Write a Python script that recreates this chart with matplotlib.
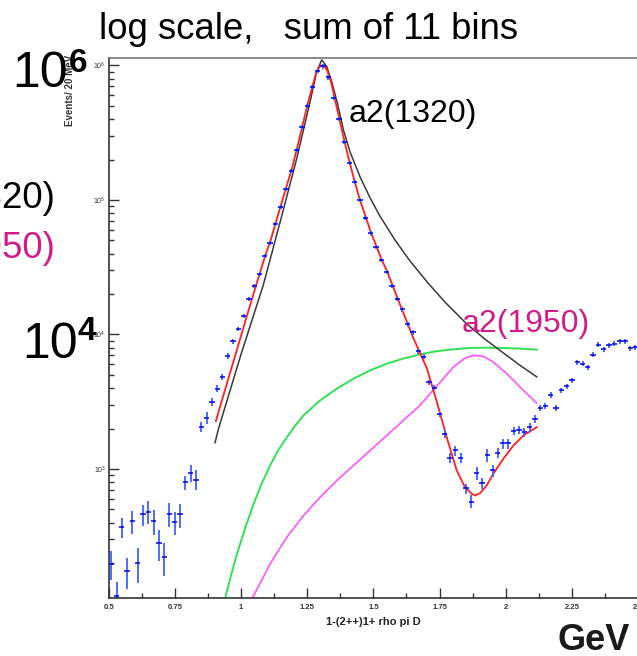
import numpy as np
import matplotlib
matplotlib.use('Agg')
import matplotlib.pyplot as plt
from matplotlib.ticker import LogLocator, MultipleLocator, NullFormatter

plt.rcParams['font.family'] = ['Liberation Sans', 'DejaVu Sans']
plt.rcParams['mathtext.fontset'] = 'custom'
plt.rcParams['mathtext.rm'] = 'Liberation Sans'
plt.rcParams['mathtext.bf'] = 'Liberation Sans:bold'

# histogram: 20 MeV bins from 0.5 GeV
bin_lo = 0.50
bin_w = 0.02
events = [198, 114, 369, 173, 409, 199, 459, 483, 409, 280,
          220, 464, 402, 459, 798, 937, 835, 2047, 2405, 3144,
          3955, 4827, 6880, 8900, 11070, 13670, 18500, 22960, 28190, 38100,
          47750, 65920, 89300, 119900, 164800, 233900, 346000, 502400, 695000, 914000,
          984000, 814700, 576800, 399000, 271000, 189200, 136800, 99800, 73600, 56400,
          44770, 35890, 29170, 22910, 18360, 15410, 11910, 10380, 7540, 6840,
          4406, 4027, 2547, 1816, 1214, 1374, 1208, 718, 573, 934,
          783, 1271, 975, 1312, 1549, 1549, 1910, 1952, 1870, 2037,
          2350, 2860, 2938, 3566, 2857, 3843, 4115, 4560, 6240, 6070,
          5730, 7080, 8410, 7760, 8310, 8550, 8900, 8900, 7930, 8070]
# relative errors
rel_err = [0.25, 0.26, 0.17, 0.26, 0.19, 0.29, 0.18, 0.19, 0.21, 0.26,
           0.27, 0.20, 0.20, 0.20, 0.12, 0.15, 0.17, 0.085, 0.10, 0.07,
           0.06, 0.05, 0.05, 0.045, 0.035, 0.035, 0.035, 0.035, 0.035, 0.035,
           0.035, 0.035, 0.035, 0.035, 0.035, 0.035, 0.035, 0.035, 0.035, 0.035,
           0.035, 0.035, 0.035, 0.035, 0.035, 0.035, 0.035, 0.035, 0.035, 0.035,
           0.035, 0.035, 0.035, 0.035, 0.035, 0.043, 0.043, 0.043, 0.043, 0.043,
           0.043, 0.043, 0.043, 0.07, 0.09, 0.085, 0.08, 0.085, 0.11, 0.115,
           0.10, 0.115, 0.10, 0.085, 0.085, 0.085, 0.07, 0.07, 0.07, 0.07,
           0.07, 0.05, 0.05, 0.05, 0.05, 0.05, 0.05, 0.05, 0.043, 0.043,
           0.043, 0.043, 0.043, 0.043, 0.043, 0.043, 0.043, 0.043, 0.043, 0.043]

# total fit (red)
fit_m = [0.905, 0.9435, 0.984, 1.023, 1.063, 1.091, 1.112, 1.132, 1.151, 1.170,
         1.192, 1.211, 1.232, 1.252, 1.270, 1.285, 1.299, 1.311, 1.325, 1.340,
         1.352, 1.370, 1.389, 1.408, 1.427, 1.446, 1.469, 1.489, 1.510, 1.529,
         1.550, 1.571, 1.590, 1.612, 1.650, 1.702, 1.740, 1.777, 1.815, 1.846,
         1.872, 1.884, 1.903, 1.928, 1.953, 1.991, 2.029, 2.067, 2.117]
fit_v = [2270, 4111, 7620, 13900, 25350, 38200, 50200, 68400, 91600, 122700,
         169800, 239300, 355000, 517600, 704700, 895700, 993000, 1009000, 927000, 755000,
         594000, 414000, 284000, 198200, 143200, 105100, 77200, 58700, 46150, 36900,
         30060, 23650, 18920, 14640, 9530, 5600, 3144, 1725, 975, 732,
         653, 635, 661, 754, 921, 1191, 1496, 1776, 2047]

# a2(1320) component (black)
a2a_m = [0.902, 0.914, 0.999, 1.084, 1.148, 1.211, 1.261, 1.286, 1.305, 1.324,
         1.343, 1.365, 1.387, 1.412, 1.450, 1.488, 1.525, 1.582, 1.639, 1.707,
         1.771, 1.850, 1.922, 1.998, 2.054, 2.117]
a2a_v = [1567, 1959, 7000, 23230, 68800, 205100, 538300, 901000, 1101000, 982000,
         755000, 517600, 331100, 227500, 148100, 103300, 75860, 50280, 35080, 24060,
         17370, 12120, 9210, 7120, 5898, 4842]

# background (green)
bkg_m = [0.936, 0.959, 0.984, 1.015, 1.047, 1.078, 1.110, 1.140, 1.173, 1.204,
         1.236, 1.299, 1.362, 1.425, 1.488, 1.551, 1.613, 1.676, 1.736, 1.802,
         1.865, 1.928, 1.991, 2.054, 2.117]
bkg_v = [101, 153, 231, 360, 544, 780, 1062, 1373, 1717, 2090,
         2502, 3236, 3955, 4695, 5410, 6070, 6620, 7120, 7500, 7760,
         7940, 7980, 7940, 7850, 7720]

# a2(1950) component (magenta)
a2b_m = [1.019, 1.041, 1.075, 1.110, 1.173, 1.236, 1.299, 1.362, 1.425, 1.488,
         1.551, 1.613, 1.676, 1.736, 1.769, 1.802, 1.847, 1.878, 1.916, 1.953,
         2.004, 2.054, 2.117]
a2b_v = [88, 108, 145, 197, 311, 450, 617, 821, 1062, 1374,
         1776, 2297, 2972, 4064, 4800, 5730, 6680, 7000, 6880, 6240,
         5117, 4064, 3090]

W, H = 637, 656
fig = plt.figure(figsize=(W / 100, H / 100), dpi=100)
# axis runs 0.5 .. 3.0, right part is cut by the picture edge
ax = fig.add_axes([108.6 / W, (H - 598.3) / H, 661.9 / W, 540.3 / H])

centers = bin_lo + bin_w * (np.arange(len(events)) + 0.5)
events = np.array(events, dtype=float)
yerr = events * np.array(rel_err)

ax.plot(a2b_m, a2b_v, color='#ff55ff', lw=1.2)
ax.plot(bkg_m, bkg_v, color='#33e055', lw=1.4)
ax.plot(a2a_m, a2a_v, color='#3a3a3a', lw=1.1)
ax.plot(fit_m, fit_v, color='#ff2020', lw=1.3)
ax.errorbar(centers, events, yerr=yerr, fmt='none', ecolor='#4060ff', elinewidth=1.3, capsize=0)
ax.errorbar(centers, events, xerr=bin_w / 2, fmt='none', ecolor='#0000ee', elinewidth=1.1, capsize=0)

ax.set_yscale('log')
ax.set_xlim(0.5, 3.0)
ax.set_ylim(109.3, 1.137e6)

ax.xaxis.set_major_locator(MultipleLocator(0.25))
ax.xaxis.set_minor_locator(MultipleLocator(0.125))
ax.yaxis.set_major_locator(LogLocator(base=10))
ax.yaxis.set_minor_locator(LogLocator(base=10, subs=np.arange(2, 10)))
ax.yaxis.set_minor_formatter(NullFormatter())
ax.xaxis.set_major_formatter(plt.FuncFormatter(lambda v, p: ('%g' % v)))

ax.tick_params(which='both', direction='in', top=False, right=False, colors='#333333')
ax.tick_params(which='major', length=7, width=1.0)
ax.tick_params(which='minor', length=3.6, width=1.0)
ax.tick_params(axis='x', labelsize=5.5, pad=4)
ax.tick_params(axis='y', labelsize=5, pad=2)
for lab in ax.get_xticklabels():
    lab.set_fontweight('bold')

for s in ['left', 'bottom']:
    ax.spines[s].set_color('#333333')
    ax.spines[s].set_linewidth(1.2)
ax.spines['top'].set_color('#777777')
ax.spines['top'].set_linewidth(1.2)
ax.spines['right'].set_visible(False)

def fx(px):
    return px / W

def fy(py):
    return 1 - py / H

fig.text(fx(373), fy(625), '1-(2++)1+ rho pi D', fontsize=8, fontweight='bold',
         color='#222222', ha='center', va='baseline')
fig.text(fx(70), fy(55), 'Events/ 20 MeV', fontsize=7, fontweight='bold',
         color='#333333', rotation=90, ha='center', va='top')

# slide annotations on top of the plot
fig.text(fx(99), fy(39), 'log scale,   sum of 11 bins', fontsize=26.3, color='black')
fig.text(fx(12), fy(87), '10', fontsize=36, color='black')
fig.text(fx(69), fy(72), '6', fontsize=24, fontweight='bold', color='black')
fig.text(fx(22), fy(358), '10', fontsize=36, color='black')
fig.text(fx(78), fy(340), '4', fontsize=24, fontweight='bold', color='black')
fig.text(fx(349), fy(122), 'a2(1320)', fontsize=23, color='black')
fig.text(fx(462), fy(332), 'a2(1950)', fontsize=23, color='#d01c8b')
fig.text(fx(55), fy(208), 'a2(1320)', fontsize=26.5, color='black', ha='right')
fig.text(fx(55), fy(258), 'a2(1950)', fontsize=26.5, color='#d01c8b', ha='right')
fig.text(fx(630), fy(650), 'GeV', fontsize=26, fontweight='bold', color='#1a1a1a', ha='right')

fig.savefig('out.png', dpi=100)
